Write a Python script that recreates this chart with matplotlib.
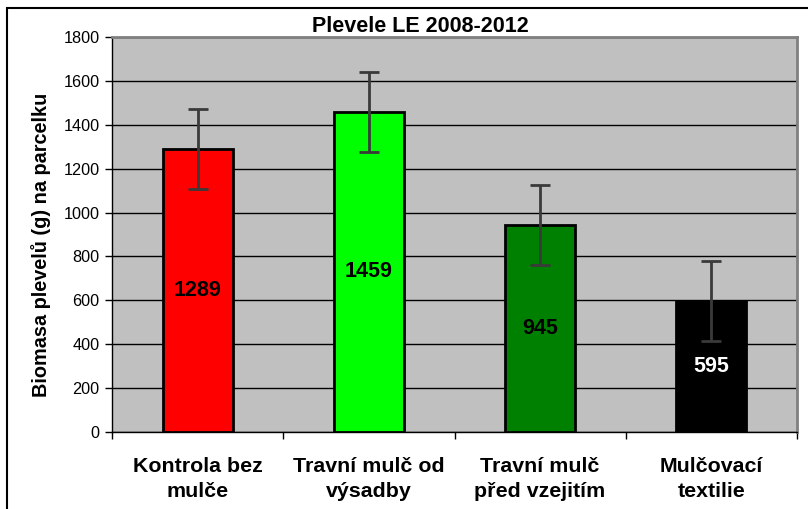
import matplotlib.pyplot as plt
from matplotlib.patches import Rectangle

plt.rcParams['font.family'] = ['Liberation Sans', 'DejaVu Sans']

categories = ["Kontrola bez\nmulče", "Travní mulč od\nvýsadby", "Travní mulč\npřed vzejitím", "Mulčovací\ntextilie"]
values = [1289, 1459, 945, 595]
errors = [183, 183, 182, 182]
colors = ["#ff0000", "#00ff00", "#008000", "#000000"]
label_colors = ["black", "black", "black", "white"]
y_ticks = [0, 200, 400, 600, 800, 1000, 1200, 1400, 1600, 1800]

fig = plt.figure(figsize=(8.08, 5.09), dpi=100)
W, H = 808, 509
ax = fig.add_axes([112 / W, 1 - 432 / H, (797 - 112) / W, (432 - 37) / H])

x = list(range(len(values)))
ax.bar(x, values, width=0.41, color=colors, edgecolor="black", linewidth=2, zorder=3)
ax.errorbar(x, values, yerr=errors, fmt="none", ecolor="#3a3a3a", elinewidth=2,
            capsize=7, capthick=2, zorder=4)

for xi, v, c in zip(x, values, label_colors):
    ax.text(xi, v / 2, str(v), ha="center", va="center", fontsize=15.5,
            fontweight="bold", color=c, zorder=5)

ax.set_facecolor("#c0c0c0")
ax.set_xlim(-0.5, len(values) - 0.5)
ax.set_ylim(0, 1800)
ax.set_yticks(y_ticks)
ax.yaxis.grid(True, color="black", linewidth=1)
ax.set_axisbelow(True)
ax.tick_params(axis="y", labelsize=11.7, length=5, width=1, direction="out", pad=4)

# category ticks sit between the bars, labels under the bar centres
ax.set_xticks([i - 0.5 for i in range(len(values) + 1)])
ax.set_xticklabels([])
ax.tick_params(axis="x", length=5, width=1, direction="out")
for xi, lab in zip(x, categories):
    ax.text(xi, -25 / 395, lab, transform=ax.get_xaxis_transform(), ha="center", va="top",
            fontsize=15.4, fontweight="bold", linespacing=1.4)

for side in ["top", "right"]:
    ax.spines[side].set_color("#808080")
    ax.spines[side].set_linewidth(2)
for side in ["left", "bottom"]:
    ax.spines[side].set_color("black")
    ax.spines[side].set_linewidth(1)

ax.set_ylabel("Biomasa plevelů (g) na parcelku", fontsize=14.3, fontweight="bold", labelpad=9)
ax.yaxis.label.set_y((432 - 245) / 395)
fig.text(420 / W, 1 - 27 / H, "Plevele LE 2008-2012", ha="center", va="center",
         fontsize=15.5, fontweight="bold")

# outer chart border (cut off on right and bottom like the source)
fig.patches.append(Rectangle((7 / W, -0.1), 1.2, 1 - 8 / H + 0.1, transform=fig.transFigure,
                             fill=False, edgecolor="black", linewidth=1.5))

fig.savefig("out.png", dpi=100)
